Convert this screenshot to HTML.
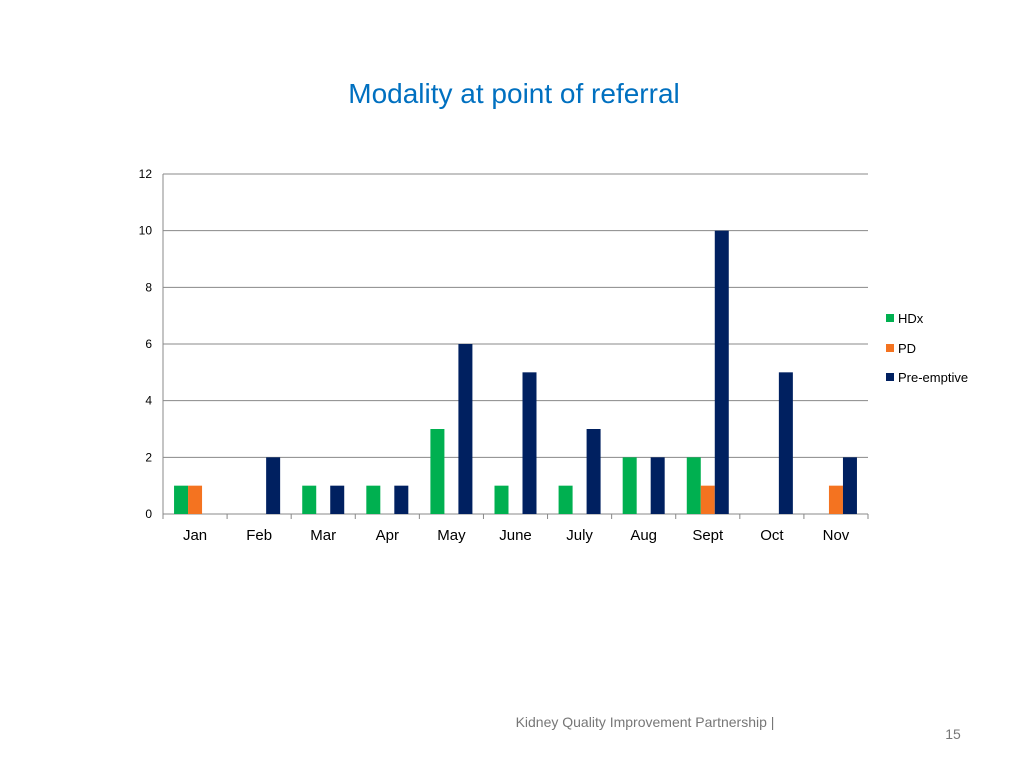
<!DOCTYPE html>
<html><head><meta charset="utf-8"><style>
body{margin:0;width:1024px;height:768px;background:#fff;overflow:hidden;font-family:"Liberation Sans",sans-serif}
svg{position:absolute;left:0;top:0}
</style></head><body>
<svg width="1024" height="768">
<text x="514" y="103" text-anchor="middle" font-size="28" fill="#0070c0">Modality at point of referral</text>
<g id="grid"></g><g id="bars"></g><g id="axes"></g>
<g font-size="13" fill="#000">
<rect x="886" y="314" width="8" height="8" fill="#00b050"/>
<text x="898" y="323">HDx</text>
<rect x="886" y="344" width="8" height="8" fill="#f47320"/>
<text x="898" y="353">PD</text>
<rect x="886" y="373" width="8" height="8" fill="#002060"/>
<text x="898" y="382">Pre-emptive</text>
</g>
<text x="645" y="727" text-anchor="middle" font-size="14" fill="#777">Kidney Quality Improvement Partnership |</text>
<text x="953" y="739" text-anchor="middle" font-size="14" fill="#777">15</text>
</svg>
<script>
const categories=["Jan","Feb","Mar","Apr","May","June","July","Aug","Sept","Oct","Nov"];
const hdx=[1,0,1,1,3,1,1,2,2,0,0];
const pd=[1,0,0,0,0,0,0,0,1,0,1];
const preEmptive=[0,2,1,1,6,5,3,2,10,5,2];
const yTicks=[0,2,4,6,8,10,12];
const NS="http://www.w3.org/2000/svg";
const x0=163,x1=868,y0=514,y1=174,yMax=12;
const cw=(x1-x0)/categories.length,bw=14;
const y=v=>y0-(y0-y1)*v/yMax;
function mk(t,a,p){const e=document.createElementNS(NS,t);for(const k in a)e.setAttribute(k,a[k]);p.appendChild(e);return e;}
const grid=document.getElementById('grid'),bars=document.getElementById('bars'),axes=document.getElementById('axes');
yTicks.forEach(v=>{
 const l=mk('line',{x1:x0,x2:x1,y1:y(v),y2:y(v),stroke:'#888','stroke-width':1},grid);
 
 
 const t=mk('text',{x:x0-11,y:y(v)+4,'text-anchor':'end','font-size':12,fill:'#000'},axes);
 t.textContent=v;
 
 
});
const ya=mk('line',{x1:x0,x2:x0,y1:y1,y2:y0,stroke:'#888'},axes);


for(let i=0;i<=categories.length;i++){
 const tk=mk('line',{x1:x0+i*cw,x2:x0+i*cw,y1:y0,y2:y0+5,stroke:'#888'},axes);
 
 
}
const series=[[hdx,'#00b050','hdx'],[pd,'#f47320','pd'],[preEmptive,'#002060','pre-emptive']];
categories.forEach((c,i)=>{
 const gx=x0+i*cw+(cw-3*bw)/2;
 series.forEach((s,j)=>{
  const v=s[0][i];if(!v)return;
  const r=mk('rect',{x:gx+j*bw,y:y(v),width:bw,height:y0-y(v),fill:s[1]},bars);
  
  
 });
 const t=mk('text',{x:x0+i*cw+cw/2,y:540,'text-anchor':'middle','font-size':15,fill:'#000'},axes);
 t.textContent=c;
 
 
});
</script>
</body></html>
